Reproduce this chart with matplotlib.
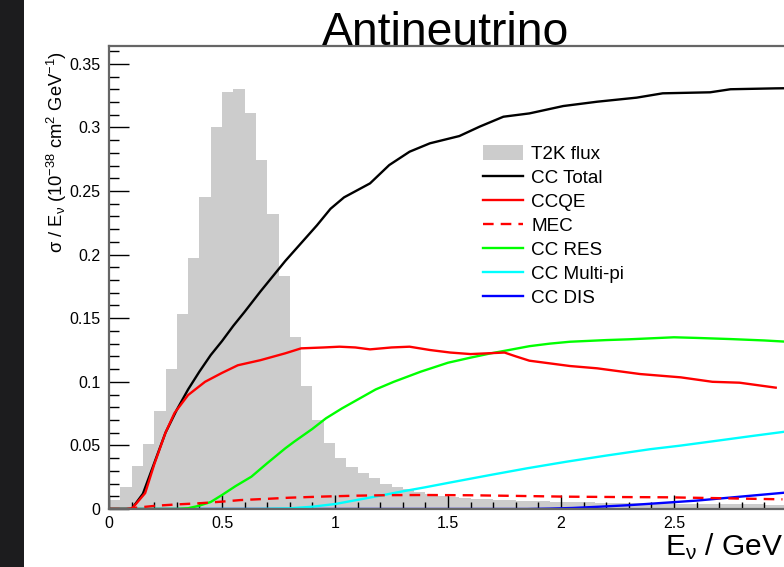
import numpy as np
import matplotlib
matplotlib.use("Agg")
import matplotlib.pyplot as plt
from matplotlib.patches import Patch, Rectangle
from matplotlib.lines import Line2D
from matplotlib.ticker import MultipleLocator, FixedLocator, FixedFormatter

plt.rcParams['font.family'] = ['Liberation Sans', 'DejaVu Sans']
plt.rcParams['mathtext.default'] = 'regular'

# ---------------- data ----------------
flux_edges_start = 0.0
flux_bin_width = 0.05
flux = [0.007, 0.017, 0.034, 0.051, 0.077, 0.110, 0.153, 0.197, 0.245, 0.300,
        0.328, 0.330, 0.311, 0.274, 0.232, 0.183, 0.1355, 0.097, 0.070, 0.052,
        0.040, 0.033, 0.028, 0.024, 0.020, 0.0175, 0.0155, 0.0136, 0.0118, 0.0105,
        0.0092, 0.0085, 0.008, 0.0075, 0.0071, 0.0068, 0.0065, 0.0062, 0.006, 0.0058,
        0.0056, 0.0054, 0.0052, 0.005, 0.0049, 0.0048, 0.0047, 0.0046, 0.0045, 0.0044,
        0.0043, 0.0042, 0.0041, 0.004, 0.0039, 0.0038, 0.0037, 0.0036, 0.0035, 0.0034]

E_tot = [0.0, 0.10, 0.15, 0.20, 0.25, 0.30, 0.35, 0.40, 0.45, 0.50, 0.55, 0.60, 0.67,
         0.78, 0.85, 0.92, 0.98, 1.04, 1.155, 1.24, 1.33, 1.42, 1.55, 1.64, 1.745,
         1.86, 2.01, 2.16, 2.335, 2.45, 2.66, 2.75, 2.95, 3.0]
cc_total = [0.0, 0.0, 0.012, 0.036, 0.060, 0.078, 0.094, 0.108, 0.121, 0.132, 0.144,
            0.155, 0.171, 0.195, 0.209, 0.223, 0.236, 0.245, 0.256, 0.2704, 0.2809,
            0.2875, 0.2932, 0.3006, 0.3084, 0.311, 0.3168, 0.3202, 0.3234, 0.3268,
            0.3276, 0.330, 0.3307, 0.3308]

E_qe = [0.0, 0.10, 0.16, 0.20, 0.25, 0.29, 0.35, 0.425, 0.50, 0.57, 0.67, 0.78, 0.85,
        0.95, 1.02, 1.09, 1.155, 1.25, 1.33, 1.42, 1.51, 1.60, 1.75, 1.80, 1.86, 2.04,
        2.16, 2.35, 2.53, 2.67, 2.79, 2.95]
ccqe = [0.0, 0.0, 0.0125, 0.035, 0.060, 0.0755, 0.0896, 0.100, 0.107, 0.113, 0.117,
        0.1224, 0.1263, 0.127, 0.1276, 0.127, 0.1255, 0.127, 0.1276, 0.125, 0.123,
        0.1218, 0.123, 0.120, 0.1166, 0.1124, 0.1106, 0.1061, 0.1035, 0.100, 0.0993,
        0.0954]

E_mec = [0.0, 0.08, 0.12, 0.21, 0.30, 0.40, 0.50, 0.58, 0.70, 0.80, 0.95, 1.10, 1.25,
         1.40, 1.60, 1.80, 2.025, 2.25, 2.467, 2.70, 2.98]
mec = [0.0, 0.0, 0.001, 0.0026, 0.0036, 0.0045, 0.0058, 0.007, 0.008, 0.0089, 0.0098,
       0.0105, 0.0109, 0.011, 0.0108, 0.0103, 0.0097, 0.0094, 0.0092, 0.0085, 0.0076]

E_res = [0.0, 0.30, 0.35, 0.395, 0.45, 0.50, 0.56, 0.63, 0.70, 0.78, 0.82, 0.90, 0.96,
         1.03, 1.11, 1.18, 1.26, 1.38, 1.50, 1.60, 1.69, 1.77, 1.86, 1.95, 2.04, 2.20,
         2.30, 2.50, 2.60, 2.75, 2.90, 3.0]
cc_res = [0.0, 0.0, 0.0006, 0.0024, 0.0055, 0.011, 0.018, 0.0254, 0.036, 0.0477, 0.053,
          0.063, 0.0713, 0.079, 0.087, 0.094, 0.100, 0.108, 0.115, 0.119, 0.1224, 0.125,
          0.128, 0.130, 0.1315, 0.1328, 0.1334, 0.135, 0.1345, 0.1336, 0.1325, 0.1315]

E_mpi = [0.0, 0.65, 0.80, 0.90, 1.0, 1.1, 1.2, 1.3, 1.4, 1.5, 1.686, 1.85, 2.025, 2.2,
         2.394, 2.527, 2.704, 2.85, 3.0]
cc_multipi = [0.0, 0.0, 0.0005, 0.0018, 0.0039, 0.0072, 0.0105, 0.0139, 0.0171, 0.0205,
              0.0267, 0.032, 0.0372, 0.042, 0.047, 0.0498, 0.054, 0.0575, 0.061]

E_dis = [0.0, 1.85, 1.95, 2.05, 2.17, 2.30, 2.467, 2.60, 2.762, 2.90, 3.0]
cc_dis = [0.0, 0.0, 0.0003, 0.0008, 0.0018, 0.003, 0.005, 0.0066, 0.0092, 0.0114, 0.013]

xticks = [0, 0.5, 1, 1.5, 2, 2.5]
xtick_labels = ["0", "0.5", "1", "1.5", "2", "2.5"]
yticks = [0, 0.05, 0.1, 0.15, 0.2, 0.25, 0.3, 0.35]
ytick_labels = ["0", "0.05", "0.1", "0.15", "0.2", "0.25", "0.3", "0.35"]

legend_labels = ["T2K flux", "CC Total", "CCQE", "MEC", "CC RES", "CC Multi-pi", "CC DIS"]

# ---------------- figure ----------------
W, H = 784, 567
fig = plt.figure(figsize=(W / 100, H / 100), dpi=100)
fig.patch.set_facecolor('white')
fig.patches.append(Rectangle((0, 0), 24 / W, 1, transform=fig.transFigure,
                             facecolor='#1c1c1e', edgecolor='none', zorder=0))

ax_left, ax_right, ax_top, ax_bottom = 109, 787, 46, 509
ax = fig.add_axes([ax_left / W, 1 - ax_bottom / H, (ax_right - ax_left) / W,
                   (ax_bottom - ax_top) / H])
ax.set_xlim(0, 3.0)
ax.set_ylim(0, 0.364)

edges = flux_edges_start + flux_bin_width * np.arange(len(flux) + 1)
ax.stairs(flux, edges, fill=True, color='#cccccc', zorder=1)

lw = 1.7
dash = (0, (4.5, 3))
ax.plot(E_dis, cc_dis, color='#0000ff', lw=lw, zorder=3)
ax.plot(E_mpi, cc_multipi, color='#00ffff', lw=lw, zorder=3.1)
ax.plot(E_res, cc_res, color='#00ff00', lw=lw, zorder=3.2)
ax.plot(E_tot, cc_total, color='black', lw=lw, zorder=3.3)
ax.plot(E_qe, ccqe, color='#ff0000', lw=lw, zorder=3.4)
ax.plot(E_mec, mec, color='#ff0000', lw=lw, ls=dash, zorder=3.5)

for s in ['left', 'top', 'bottom', 'right']:
    ax.spines[s].set_color('#666666')
    ax.spines[s].set_linewidth(1.6)
    ax.spines[s].set_zorder(5)

ax.xaxis.set_major_locator(FixedLocator(xticks))
ax.xaxis.set_major_formatter(FixedFormatter(xtick_labels))
ax.xaxis.set_minor_locator(MultipleLocator(0.1))
ax.yaxis.set_major_locator(FixedLocator(yticks))
ax.yaxis.set_major_formatter(FixedFormatter(ytick_labels))
ax.yaxis.set_minor_locator(MultipleLocator(0.01))

ax.tick_params(axis='y', which='major', direction='in', length=14.4, width=1.0,
               labelsize=11.5, pad=6, left=True, right=False)
ax.tick_params(axis='y', which='minor', direction='in', length=7.2, width=1.0,
               left=True, right=False)
ax.tick_params(axis='x', which='major', direction='in', length=10, width=1.0,
               labelsize=11.5, pad=5, bottom=True, top=False)
ax.tick_params(axis='x', which='minor', direction='in', length=5, width=1.0,
               bottom=True, top=False)

# title
fig.text(322 / W, 1 - 45 / H, "Antineutrino", fontsize=33.3, ha='left', va='baseline')

# y label
fig.text(57 / W, 1 - 51 / H,
         r"$\sigma$ / E$_{\nu}$ (10$^{-38}$ cm$^{2}$ GeV$^{-1}$)",
         rotation=90, fontsize=13.2, ha='center', va='top')

# x label
fig.text(665 / W, 1 - 555 / H, r"E$_{\nu}$ / GeV", fontsize=21.5, ha='left',
         va='baseline')

handles = [Patch(facecolor='#cccccc', edgecolor='none'),
           Line2D([], [], color='black', lw=lw),
           Line2D([], [], color='#ff0000', lw=lw),
           Line2D([], [], color='#ff0000', lw=lw, ls=dash),
           Line2D([], [], color='#00ff00', lw=lw),
           Line2D([], [], color='#00ffff', lw=lw),
           Line2D([], [], color='#0000ff', lw=lw)]
leg = fig.legend(handles, legend_labels, loc='upper left',
                 bbox_to_anchor=(483 / W, 1 - 145 / H), frameon=False,
                 fontsize=13.6, handlelength=2.1, handleheight=0.85,
                 handletextpad=0.45, labelspacing=0.31, borderpad=0,
                 borderaxespad=0)

fig.savefig("out.png", dpi=100)
